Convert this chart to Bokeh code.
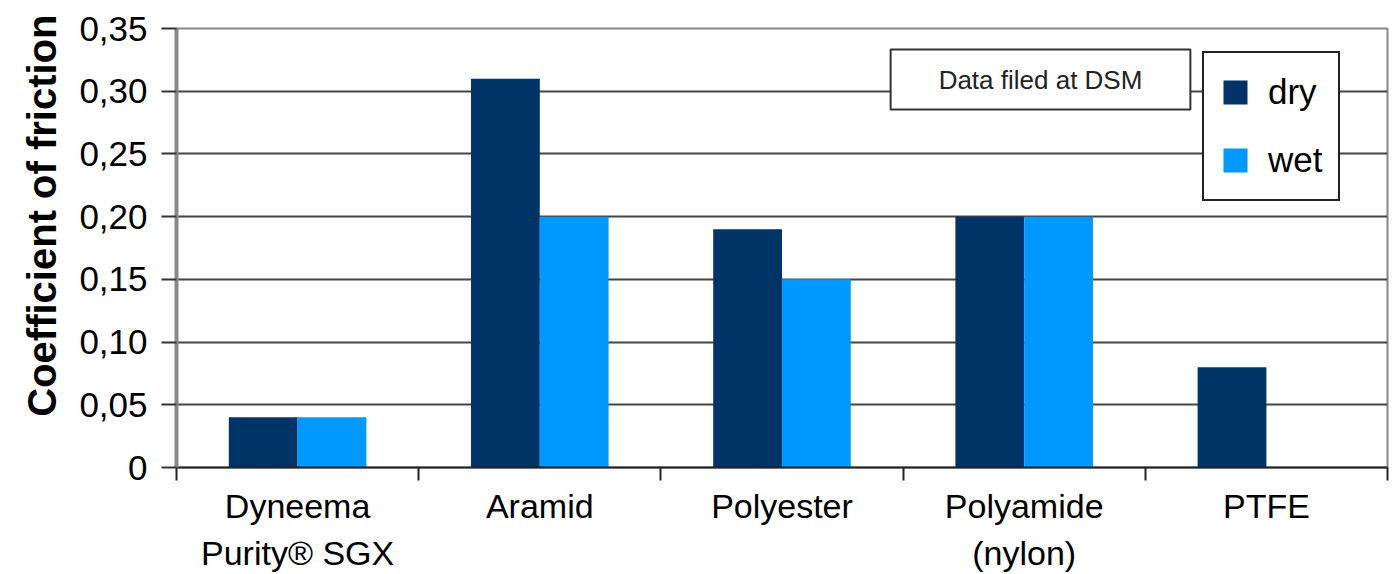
from bokeh.plotting import figure
from bokeh.models import (Range1d, LinearAxis, FixedTicker, Title,
                          CustomJSTickFormatter, Legend, LegendItem, Label, ColumnDataSource)
from bokeh.transform import dodge
from bokeh.embed import file_html
from bokeh.resources import INLINE

categories = ["Dyneema", "Aramid", "Polyester", "Polyamide", "PTFE"]
second_lines = ["Purity® SGX", "", "", "(nylon)", ""]
dry = [0.04, 0.31, 0.19, 0.20, 0.08]
wet = [0.04, 0.20, 0.15, 0.20, 0.0]
yticks = [0, 0.05, 0.10, 0.15, 0.20, 0.25, 0.30, 0.35]
series_names = ["dry", "wet"]
colors = ["#003366", "#0099ff"]

FONT = "Liberation Sans"
n = len(categories)
centers = [i + 0.5 for i in range(n)]

p = figure(x_range=Range1d(0, n), y_range=Range1d(0, 0.35),
           width=1393, height=574, output_backend="svg", toolbar_location=None,
           x_axis_location=None, y_axis_location="left", title=None,
           min_border_left=176, min_border_right=6, min_border_top=28, min_border_bottom=105)
p.outline_line_color = "#888888"
p.outline_line_width = 2
p.background_fill_color = "white"
p.border_fill_color = "white"

# y axis
ya = p.yaxis[0]
ya.ticker = FixedTicker(ticks=yticks)
ya.formatter = CustomJSTickFormatter(code="return tick == 0 ? '0' : tick.toFixed(2).replace('.', ',');")
ya.major_label_text_font = FONT
ya.major_label_text_font_size = "35px"
ya.major_label_text_color = "black"
ya.axis_line_color = "#888888"
ya.axis_line_width = 4
ya.major_tick_out = 15
ya.major_tick_in = 0
ya.major_tick_line_color = "#333333"
ya.major_tick_line_width = 2
ya.minor_tick_line_color = None
ya.major_label_standoff = 14

p.add_layout(Title(text="Coefficient of friction", align="right", offset=-14, standoff=26,
                   text_font=FONT, text_font_size="40px", text_font_style="bold",
                   text_color="black"), "left")

p.ygrid.ticker = FixedTicker(ticks=yticks)
p.ygrid.grid_line_color = "#444444"
p.ygrid.grid_line_width = 2
p.xgrid.visible = False

# x axes: boundary ticks, category labels, second lines of labels
tick_axis = LinearAxis(ticker=FixedTicker(ticks=list(range(n + 1))),
                       formatter=CustomJSTickFormatter(code="return '';"),
                       major_tick_out=13, major_tick_in=0, minor_tick_line_color=None,
                       axis_line_color="#222222", axis_line_width=2,
                       major_tick_line_color="#222222", major_tick_line_width=2,
                       major_label_standoff=0, major_label_text_font_size="2px")
p.add_layout(tick_axis, "below")
cat_axis = LinearAxis(ticker=FixedTicker(ticks=centers),
                      formatter=CustomJSTickFormatter(args=dict(cats=categories),
                                                      code="return cats[Math.floor(tick)];"),
                      axis_line_color=None, major_tick_line_color=None, minor_tick_line_color=None,
                      major_label_text_font=FONT, major_label_text_font_size="34px",
                      major_label_text_color="black", major_label_standoff=0)
p.add_layout(cat_axis, "below")
line2_axis = LinearAxis(ticker=FixedTicker(ticks=centers),
                        formatter=CustomJSTickFormatter(args=dict(cats=second_lines),
                                                        code="return cats[Math.floor(tick)];"),
                        axis_line_color=None, major_tick_line_color=None, minor_tick_line_color=None,
                        major_label_text_font=FONT, major_label_text_font_size="34px",
                        major_label_text_color="black", major_label_standoff=0)
p.add_layout(line2_axis, "below")

src = ColumnDataSource(dict(pos=centers, dry=dry, wet=wet))
r_dry = p.vbar(x=dodge("pos", -0.142), top="dry", width=0.284, source=src,
               fill_color=colors[0], line_color=None)
r_wet = p.vbar(x=dodge("pos", 0.142), top="wet", width=0.284, source=src,
               fill_color=colors[1], line_color=None)

legend = Legend(items=[LegendItem(label=series_names[0], renderers=[r_dry]),
                       LegendItem(label=series_names[1], renderers=[r_wet])],
                location=(1026, 266), glyph_width=30, glyph_height=30,
                label_text_font=FONT, label_text_font_size="35px", label_text_color="black",
                label_height=46, spacing=22, padding=16, label_standoff=18, margin=0,
                border_line_color="#222222", border_line_width=2, border_line_alpha=1,
                background_fill_color="white", background_fill_alpha=1)
p.add_layout(legend)

p.add_layout(Label(x=864, y=388, x_units="screen", y_units="screen", text="Data filed at DSM",
                   text_font=FONT, text_font_size="26px", text_color="#222222",
                   text_align="center", text_baseline="middle",
                   border_line_color="#333333", border_line_width=2,
                   background_fill_color="white", padding=(48, 15)))

open("out.html", "w").write(file_html(p, INLINE))
